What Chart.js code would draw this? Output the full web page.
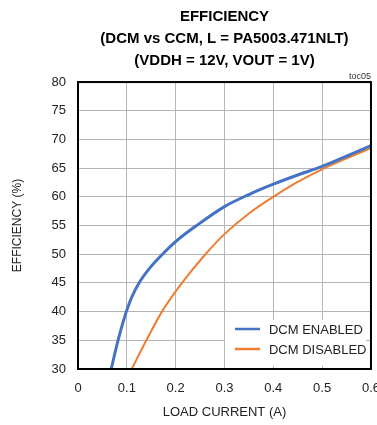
<!DOCTYPE html>
<html>
<head>
<meta charset="utf-8">
<script src="https://cdn.jsdelivr.net/npm/chart.js"></script>
<style>
  html, body { margin: 0; padding: 0; background: #fff; overflow: hidden; }
  #wrap { width: 377px; height: 425px; overflow: hidden; }
</style>
</head>
<body>
<div id="wrap"><canvas id="c" width="392" height="425"></canvas></div>
<script>
  // values
  const enabledCurrent = [0.068, 0.082, 0.099, 0.11, 0.125, 0.146, 0.173, 0.2, 0.243, 0.3, 0.35, 0.4, 0.45, 0.5, 0.55, 0.6];
  const enabledEff = [30, 35, 40, 42.5, 45, 47.5, 50, 52.2, 55, 58.3, 60.4, 62.2, 63.8, 65.3, 67.1, 68.9];
  const disabledCurrent = [0.11, 0.14, 0.172, 0.213, 0.261, 0.3, 0.35, 0.4, 0.45, 0.5, 0.55, 0.6];
  const disabledEff = [30, 35, 40, 45, 50, 53.5, 57.1, 60, 62.6, 64.8, 66.7, 68.5];
  const seriesLabels = ["DCM ENABLED", "DCM DISABLED"];
  const titleLines = ["EFFICIENCY", "(DCM vs CCM, L = PA5003.471NLT)", "(VDDH = 12V, VOUT = 1V)"];

  const FONT = "'Liberation Sans Narrow', 'Arial Narrow', 'Liberation Sans', Arial, sans-serif";

  function toPoints(xs, ys) {
    return xs.map((x, i) => ({ x: x, y: ys[i] }));
  }

  // black frame around the plot + legend box in lower right
  const framePlugin = {
    id: "frame",
    afterDraw(chart) {
      const ctx = chart.ctx;
      const a = chart.chartArea;
      ctx.save();

      const bx = a.right - 146, by = a.bottom - 49;
      ctx.fillStyle = "#fff";
      ctx.fillRect(bx, by, 141, 46);

      ctx.font = "13px " + FONT;
      ctx.textBaseline = "middle";
      ctx.textAlign = "left";
      chart.data.datasets.forEach((ds, i) => {
        const y = a.bottom - 40 + i * 20;
        ctx.strokeStyle = ds.borderColor;
        ctx.lineWidth = 2.5;
        ctx.beginPath();
        ctx.moveTo(a.right - 136, y);
        ctx.lineTo(a.right - 111, y);
        ctx.stroke();
        ctx.fillStyle = "#222";
        ctx.fillText(ds.label, a.right - 102, y + 1);
      });

      ctx.strokeStyle = "#000";
      ctx.lineWidth = 2;
      ctx.strokeRect(a.left, a.top, a.right - a.left, a.bottom - a.top);
      ctx.restore();
    },
  };

  new Chart(document.getElementById("c").getContext("2d"), {
    type: "line",
    data: {
      datasets: [
        {
          label: seriesLabels[0],
          data: toPoints(enabledCurrent, enabledEff),
          borderColor: "#4472C4",
          borderWidth: 3,
          pointRadius: 0,
          cubicInterpolationMode: "monotone",
        },
        {
          label: seriesLabels[1],
          data: toPoints(disabledCurrent, disabledEff),
          borderColor: "#ED7D31",
          borderWidth: 2,
          pointRadius: 0,
          cubicInterpolationMode: "monotone",
        },
      ],
    },
    options: {
      responsive: false,
      animation: false,
      layout: { padding: { left: 0, right: 17, top: 0, bottom: 0 } },
      plugins: {
        legend: { display: false },
        tooltip: { enabled: false },
        title: {
          display: true,
          text: titleLines,
          fullSize: false,
          color: "#000",
          font: { family: FONT, size: 15, weight: "bold", lineHeight: 1.45 },
          padding: { top: 6, bottom: 0 },
        },
        subtitle: {
          display: true,
          text: "toc05",
          fullSize: false,
          align: "end",
          color: "#333",
          font: { family: FONT, size: 9, lineHeight: 1.2 },
          padding: { top: 0, bottom: 0 },
        },
      },
      scales: {
        x: {
          type: "linear",
          min: 0,
          max: 0.6,
          afterFit: (s) => { s.height = 56; },
          grid: { color: "#b5b5b5", lineWidth: 1, drawTicks: false },
          border: { display: false },
          ticks: {
            stepSize: 0.1,
            padding: 12,
            color: "#222",
            font: { family: FONT, size: 13 },
            callback: (v) => (Math.round(v * 10) / 10).toString(),
          },
          title: {
            display: true,
            text: "LOAD CURRENT (A)",
            color: "#222",
            font: { family: FONT, size: 13 },
            padding: { top: 0, bottom: 5 },
          },
        },
        y: {
          min: 30,
          max: 80,
          afterFit: (s) => { s.width = 78; },
          grid: { color: "#b5b5b5", lineWidth: 1, drawTicks: false },
          border: { display: false },
          ticks: {
            stepSize: 5,
            padding: 12,
            color: "#222",
            font: { family: FONT, size: 13 },
          },
          title: {
            display: true,
            text: "EFFICIENCY (%)",
            color: "#222",
            font: { family: FONT, size: 12 },
            padding: { top: 10, bottom: 0 },
          },
        },
      },
    },
    plugins: [framePlugin],
  });
</script>
</body>
</html>
